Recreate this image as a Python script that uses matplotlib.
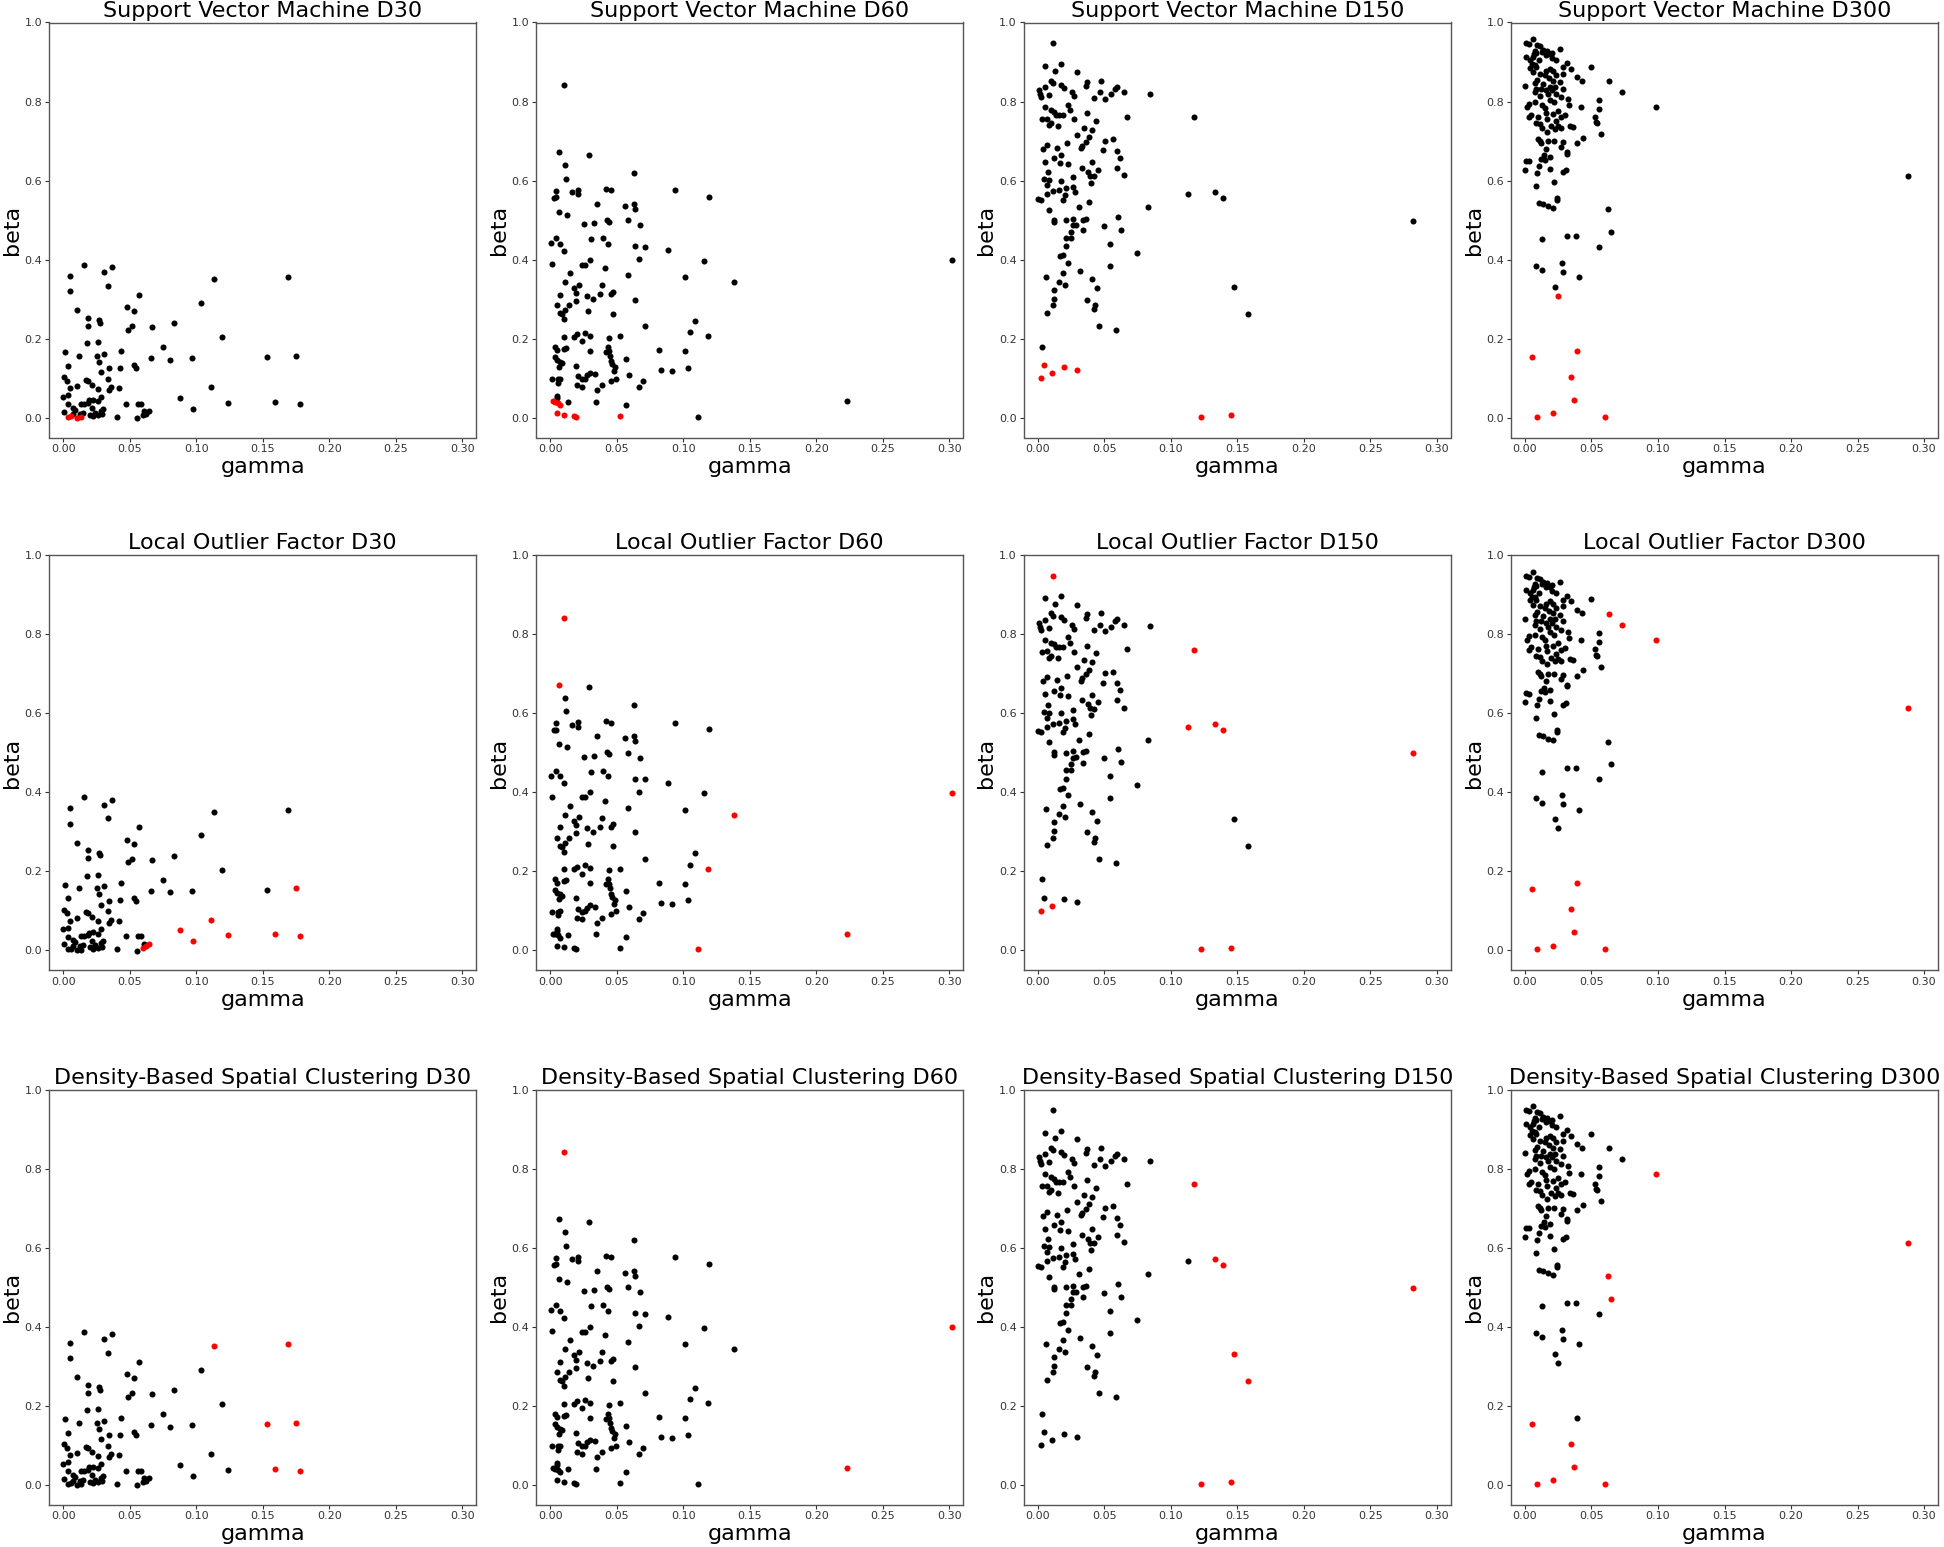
import matplotlib
matplotlib.use("Agg")
import matplotlib.pyplot as plt
import numpy as np

# ---------------- data (gamma, beta) per dataset ----------------
# points flagged as outliers by any method are listed first
gamma_d30 = [0.0038, 0.0055, 0.0100, 0.0130,
             0.0601, 0.0621, 0.0641, 0.0874, 0.0972, 0.1114, 0.1235, 0.1590, 0.1780, 0.1746,
             0.1130, 0.1690, 0.1530,
             0.0158, 0.0370, 0.0050, 0.0305, 0.0336, 0.0053, 0.0573, 0.0105, 0.0478, 0.0533,
             0.1034, 0.0185, 0.0268, 0.0275, 0.0185, 0.0829, 0.0516, 0.0483, 0.0669, 0.1195,
             0.0178, 0.0260, 0.0010, 0.0431, 0.0749, 0.0115, 0.0253, 0.0305, 0.0661, 0.0806,
             0.0967, 0.0270, 0.0035, 0.0530, 0.0548, 0.0346, 0.0426, 0.0283, 0.0005, 0.0025,
             0.0168, 0.0185, 0.0333, 0.0218, 0.0105, 0.0050, 0.0263, 0.0356, 0.0346, 0.0421,
             0.0000, 0.0035, 0.0280, 0.0195, 0.0225, 0.0260, 0.0183, 0.0130, 0.0155, 0.0473,
             0.0563, 0.0581, 0.0038, 0.0008, 0.0075, 0.0088, 0.0213, 0.0300, 0.0283, 0.0238,
             0.0606, 0.0150, 0.0125, 0.0075, 0.0200, 0.0225, 0.0263, 0.0290, 0.0403, 0.0551]
beta_d30 = [0.003, 0.004, 0.000, 0.001,
            0.006, 0.010, 0.016, 0.051, 0.023, 0.077, 0.038, 0.040, 0.035, 0.157,
            0.351, 0.355, 0.153,
            0.387, 0.381, 0.359, 0.368, 0.334, 0.320, 0.311, 0.272, 0.280, 0.270,
            0.291, 0.253, 0.247, 0.240, 0.233, 0.239, 0.231, 0.223, 0.229, 0.204,
            0.189, 0.191, 0.166, 0.169, 0.178, 0.157, 0.157, 0.162, 0.151, 0.147,
            0.151, 0.142, 0.131, 0.133, 0.125, 0.125, 0.127, 0.115, 0.103, 0.093,
            0.096, 0.093, 0.099, 0.084, 0.081, 0.075, 0.073, 0.077, 0.070, 0.075,
            0.053, 0.057, 0.053, 0.044, 0.046, 0.042, 0.038, 0.035, 0.035, 0.036,
            0.035, 0.035, 0.034, 0.015, 0.025, 0.020, 0.024, 0.023, 0.018, 0.013,
            0.017, 0.013, 0.010, 0.010, 0.007, 0.004, 0.006, 0.009, 0.003, -0.001]
svm_d30 = [0, 1, 2, 3]
lof_d30 = [4, 5, 6, 7, 8, 9, 10, 11, 12, 13]
dbscan_d30 = [11, 12, 13, 14, 15, 16]

gamma_d60 = [0.0020, 0.0035, 0.0055, 0.0075, 0.0048, 0.0100, 0.0180, 0.0195, 0.0526,
             0.0100, 0.0065, 0.1382, 0.3023, 0.1185, 0.2234, 0.1107,
             0.0288, 0.0108, 0.0118, 0.0629, 0.0043, 0.0163, 0.0208, 0.0210, 0.0025, 0.0043,
             0.0420, 0.0460, 0.0939, 0.1195, 0.0348, 0.0563, 0.0626, 0.0634, 0.0065, 0.0125,
             0.0426, 0.0441, 0.0584, 0.0250, 0.0326, 0.0674, 0.0043, 0.0308, 0.0393, 0.0008,
             0.0073, 0.0433, 0.0639, 0.0709, 0.0100, 0.0882, 0.0013, 0.0238, 0.0258, 0.0300,
             0.0413, 0.0664, 0.1157, 0.0145, 0.0584, 0.1014, 0.0113, 0.0388, 0.0215, 0.0175,
             0.0193, 0.0073, 0.0278, 0.0371, 0.0458, 0.0473, 0.0193, 0.0318, 0.0634, 0.0053,
             0.0138, 0.0113, 0.0283, 0.0073, 0.0088, 0.0468, 0.0105, 0.1087, 0.0709, 0.1047,
             0.0260, 0.0200, 0.0175, 0.0300, 0.0100, 0.0521, 0.0438, 0.0238, 0.0033, 0.0105,
             0.0120, 0.0433, 0.0053, 0.0300, 0.0416, 0.0443, 0.0821, 0.1012, 0.0451, 0.0033,
             0.0566, 0.0050, 0.0075, 0.0460, 0.0085, 0.0463, 0.0065, 0.0195, 0.0488, 0.1034,
             0.0476, 0.0836, 0.0914, 0.0300, 0.0333, 0.0589, 0.0275, 0.0205, 0.0070, 0.0258,
             0.0013, 0.0060, 0.0496, 0.0240, 0.0696, 0.0458, 0.0058, 0.0203, 0.0238, 0.0386,
             0.0666, 0.0353, 0.0048, 0.0050, 0.0135, 0.0346, 0.0571]
beta_d60 = [0.042, 0.040, 0.038, 0.031, 0.011, 0.007, 0.005, 0.003, 0.005,
            0.841, 0.672, 0.343, 0.399, 0.206, 0.042, 0.002,
            0.666, 0.639, 0.605, 0.620, 0.574, 0.570, 0.577, 0.565, 0.556, 0.558,
            0.579, 0.576, 0.575, 0.559, 0.541, 0.536, 0.541, 0.529, 0.521, 0.513,
            0.501, 0.496, 0.500, 0.490, 0.492, 0.487, 0.454, 0.451, 0.454, 0.442,
            0.440, 0.440, 0.434, 0.432, 0.423, 0.424, 0.388, 0.387, 0.387, 0.400,
            0.378, 0.401, 0.397, 0.365, 0.360, 0.355, 0.343, 0.335, 0.336, 0.328,
            0.316, 0.311, 0.309, 0.312, 0.312, 0.319, 0.296, 0.300, 0.299, 0.284,
            0.284, 0.272, 0.270, 0.264, 0.262, 0.263, 0.249, 0.245, 0.232, 0.216,
            0.215, 0.211, 0.205, 0.207, 0.205, 0.206, 0.203, 0.193, 0.179, 0.175,
            0.177, 0.179, 0.171, 0.170, 0.167, 0.168, 0.171, 0.168, 0.157, 0.153,
            0.149, 0.145, 0.142, 0.143, 0.138, 0.135, 0.129, 0.132, 0.128, 0.127,
            0.117, 0.120, 0.117, 0.114, 0.110, 0.109, 0.108, 0.105, 0.099, 0.099,
            0.097, 0.097, 0.099, 0.097, 0.094, 0.092, 0.088, 0.082, 0.078, 0.082,
            0.079, 0.070, 0.055, 0.049, 0.039, 0.040, 0.033]
svm_d60 = [0, 1, 2, 3, 4, 5, 6, 7, 8]
lof_d60 = [9, 10, 11, 12, 13, 14, 15]
dbscan_d60 = [9, 12, 14]

gamma_d150 = [0.0048, 0.0195, 0.0293, 0.0110, 0.0023, 0.1225, 0.1450,
              0.0115, 0.1172, 0.1127, 0.1335, 0.1397, 0.2822,
              0.1478, 0.1583,
              0.0053, 0.0173, 0.0130, 0.0296, 0.0098, 0.0113, 0.0368, 0.0473, 0.0175, 0.0200,
              0.0363, 0.0053, 0.0008, 0.0596, 0.0581, 0.0651, 0.0258, 0.0468, 0.0846, 0.0015,
              0.0083, 0.0025, 0.0275, 0.0423, 0.0508, 0.0553, 0.0230, 0.0058, 0.0240, 0.0098,
              0.0125, 0.0140, 0.0188, 0.0163, 0.0370, 0.0674, 0.0030, 0.0068, 0.0273, 0.0436,
              0.0100, 0.0085, 0.0150, 0.0351, 0.0411, 0.0298, 0.0386, 0.0563, 0.0508, 0.0361,
              0.0223, 0.0068, 0.0331, 0.0038, 0.0143, 0.0323, 0.0488, 0.0594, 0.0178, 0.0125,
              0.0621, 0.0053, 0.0168, 0.0230, 0.0411, 0.0594, 0.0331, 0.0080, 0.0378, 0.0456,
              0.0265, 0.0649, 0.0396, 0.0423, 0.0045, 0.0088, 0.0178, 0.0401, 0.0070, 0.0268,
              0.0210, 0.0160, 0.0118, 0.0283, 0.0073, 0.0208, 0.0188, 0.0005, 0.0023, 0.0383,
              0.0308, 0.0829, 0.0088, 0.0601, 0.0268, 0.0125, 0.0210, 0.0366, 0.0343, 0.0125,
              0.0265, 0.0285, 0.0498, 0.0626, 0.0338, 0.0248, 0.0210, 0.0250, 0.0546, 0.0213,
              0.0749, 0.0168, 0.0188, 0.0225, 0.0541, 0.0318, 0.0188, 0.0065, 0.0406, 0.0163,
              0.0208, 0.0448, 0.0125, 0.0125, 0.0373, 0.0118, 0.0431, 0.0423, 0.0070, 0.0458,
              0.0586, 0.0030]
beta_d150 = [0.133, 0.129, 0.121, 0.112, 0.100, 0.003, 0.006,
             0.948, 0.760, 0.565, 0.572, 0.556, 0.498,
             0.332, 0.263,
             0.891, 0.896, 0.877, 0.874, 0.853, 0.846, 0.850, 0.852, 0.843, 0.835,
             0.840, 0.836, 0.829, 0.837, 0.832, 0.824, 0.824, 0.824, 0.820, 0.819,
             0.816, 0.811, 0.813, 0.809, 0.807, 0.819, 0.792, 0.785, 0.778, 0.778,
             0.774, 0.766, 0.766, 0.766, 0.770, 0.762, 0.755, 0.757, 0.755, 0.751,
             0.745, 0.740, 0.739, 0.734, 0.729, 0.716, 0.710, 0.705, 0.701, 0.698,
             0.695, 0.691, 0.688, 0.681, 0.683, 0.682, 0.677, 0.676, 0.664, 0.656,
             0.658, 0.648, 0.645, 0.643, 0.646, 0.633, 0.633, 0.621, 0.623, 0.627,
             0.609, 0.614, 0.612, 0.611, 0.604, 0.601, 0.600, 0.594, 0.588, 0.584,
             0.581, 0.576, 0.573, 0.572, 0.566, 0.563, 0.552, 0.554, 0.551, 0.547,
             0.533, 0.533, 0.526, 0.508, 0.504, 0.501, 0.500, 0.504, 0.501, 0.494,
             0.487, 0.488, 0.486, 0.476, 0.475, 0.471, 0.455, 0.455, 0.440, 0.434,
             0.417, 0.408, 0.411, 0.392, 0.384, 0.371, 0.365, 0.357, 0.351, 0.344,
             0.337, 0.328, 0.324, 0.301, 0.299, 0.284, 0.284, 0.274, 0.266, 0.232,
             0.221, 0.179]
svm_d150 = [0, 1, 2, 3, 4, 5, 6]
lof_d150 = [3, 4, 5, 6, 7, 8, 9, 10, 11, 12]
dbscan_d150 = [5, 6, 8, 10, 11, 12, 13, 14]

gamma_d300 = [0.0245, 0.0390, 0.0050, 0.0345, 0.0370, 0.0208, 0.0093, 0.0598,
              0.0630, 0.0730, 0.0985, 0.2878,
              0.0625, 0.0643,
              0.0058, 0.0008, 0.0033, 0.0088, 0.0110, 0.0265, 0.0138, 0.0165, 0.0073, 0.0130,
              0.0200, 0.0065, 0.0085, 0.0160, 0.0185, 0.0005, 0.0060, 0.0200, 0.0235, 0.0035,
              0.0105, 0.0315, 0.0050, 0.0073, 0.0498, 0.0085, 0.0035, 0.0285, 0.0348, 0.0185,
              0.0160, 0.0210, 0.0060, 0.0110, 0.0285, 0.0148, 0.0235, 0.0390, 0.0180, 0.0090,
              0.0430, 0.0210, 0.0260, 0.0073, 0.0135, 0.0000, 0.0185, 0.0223, 0.0085, 0.0123,
              0.0160, 0.0285, 0.0205, 0.0073, 0.0173, 0.0235, 0.0115, 0.0270, 0.0185, 0.0323,
              0.0555, 0.0078, 0.0215, 0.0033, 0.0130, 0.0328, 0.0015, 0.0420, 0.0148, 0.0555,
              0.0248, 0.0160, 0.0210, 0.0048, 0.0298, 0.0525, 0.0030, 0.0098, 0.0273, 0.0168,
              0.0535, 0.0235, 0.0085, 0.0543, 0.0110, 0.0198, 0.0250, 0.0335, 0.0360, 0.0273,
              0.0130, 0.0223, 0.0168, 0.0568, 0.0435, 0.0098, 0.0115, 0.0173, 0.0215, 0.0285,
              0.0390, 0.0123, 0.0273, 0.0160, 0.0315, 0.0318, 0.0140, 0.0190, 0.0118, 0.0148,
              0.0005, 0.0030, 0.0105, 0.0000, 0.0185, 0.0310, 0.0285, 0.0088, 0.0218, 0.0080,
              0.0243, 0.0240, 0.0105, 0.0135, 0.0173, 0.0213, 0.0315, 0.0380, 0.0130, 0.0560,
              0.0080, 0.0275, 0.0125, 0.0285, 0.0408, 0.0228]
beta_d300 = [0.309, 0.170, 0.154, 0.104, 0.045, 0.011, 0.002, 0.002,
             0.851, 0.823, 0.786, 0.612,
             0.527, 0.470,
             0.957, 0.948, 0.945, 0.942, 0.940, 0.932, 0.931, 0.929, 0.927, 0.926,
             0.924, 0.920, 0.922, 0.919, 0.920, 0.912, 0.912, 0.910, 0.904, 0.905,
             0.904, 0.897, 0.895, 0.893, 0.888, 0.887, 0.885, 0.887, 0.883, 0.883,
             0.877, 0.877, 0.874, 0.870, 0.870, 0.866, 0.866, 0.861, 0.859, 0.855,
             0.853, 0.853, 0.849, 0.847, 0.845, 0.839, 0.838, 0.838, 0.832, 0.832,
             0.829, 0.832, 0.828, 0.824, 0.819, 0.818, 0.813, 0.811, 0.804, 0.806,
             0.803, 0.798, 0.798, 0.794, 0.792, 0.790, 0.786, 0.786, 0.784, 0.781,
             0.777, 0.771, 0.769, 0.767, 0.765, 0.762, 0.760, 0.762, 0.760, 0.756,
             0.748, 0.750, 0.745, 0.745, 0.742, 0.739, 0.737, 0.737, 0.735, 0.733,
             0.732, 0.731, 0.723, 0.717, 0.708, 0.705, 0.700, 0.700, 0.700, 0.697,
             0.695, 0.695, 0.686, 0.680, 0.672, 0.668, 0.664, 0.659, 0.655, 0.653,
             0.650, 0.649, 0.636, 0.627, 0.630, 0.626, 0.621, 0.620, 0.597, 0.587,
             0.556, 0.552, 0.544, 0.541, 0.535, 0.531, 0.460, 0.461, 0.451, 0.433,
             0.385, 0.392, 0.373, 0.369, 0.355, 0.332]
svm_d300 = [0, 1, 2, 3, 4, 5, 6, 7]
lof_d300 = [1, 2, 3, 4, 5, 6, 7, 8, 9, 10, 11]
dbscan_d300 = [2, 3, 4, 5, 6, 7, 10, 11, 12, 13]

datasets = ["D30", "D60", "D150", "D300"]
methods = ["Support Vector Machine", "Local Outlier Factor", "Density-Based Spatial Clustering"]
gammas = [gamma_d30, gamma_d60, gamma_d150, gamma_d300]
betas = [beta_d30, beta_d60, beta_d150, beta_d300]
outliers = [
    [svm_d30, svm_d60, svm_d150, svm_d300],
    [lof_d30, lof_d60, lof_d150, lof_d300],
    [dbscan_d30, dbscan_d60, dbscan_d150, dbscan_d300],
]
x_ticks = [0.00, 0.05, 0.10, 0.15, 0.20, 0.25, 0.30]
y_ticks = [0.0, 0.2, 0.4, 0.6, 0.8, 1.0]

# ---------------- figure ----------------
W, H = 1944, 1547
fig = plt.figure(figsize=(W / 100, H / 100), dpi=100)
lefts = [49.3, 536.3, 1023.7, 1511.0]
tops = [22.5, 555.0, 1089.5]
ax_w, ax_h = 427.0, 415.0

for r, method in enumerate(methods):
    for c, ds in enumerate(datasets):
        ax = fig.add_axes([lefts[c] / W, 1 - (tops[r] + ax_h) / H, ax_w / W, ax_h / H])
        g = np.array(gammas[c])
        b = np.array(betas[c])
        mask = np.zeros(len(g), dtype=bool)
        mask[outliers[r][c]] = True
        ax.scatter(g[~mask], b[~mask], s=19, c="black", linewidths=0)
        ax.scatter(g[mask], b[mask], s=19, c="red", linewidths=0)
        ax.set_xlim(-0.0105, 0.3105)
        ax.set_ylim(-0.05, 1.0)
        ax.set_xticks(x_ticks)
        ax.set_xticklabels([f"{v:.2f}" for v in x_ticks])
        ax.set_yticks(y_ticks)
        ax.set_yticklabels([f"{v:.1f}" for v in y_ticks])
        ax.tick_params(labelsize=8, length=3, width=0.8, pad=2, colors="#333333")
        for sp in ax.spines.values():
            sp.set_color("#555555")
            sp.set_linewidth(1.0)
        ax.set_title(f"{method} {ds}", fontsize=16, pad=4)
        ax.set_xlabel("gamma", fontsize=16, labelpad=2)
        ax.set_ylabel("beta", fontsize=16, labelpad=2)

fig.savefig("out.png", dpi=100, facecolor="white")
